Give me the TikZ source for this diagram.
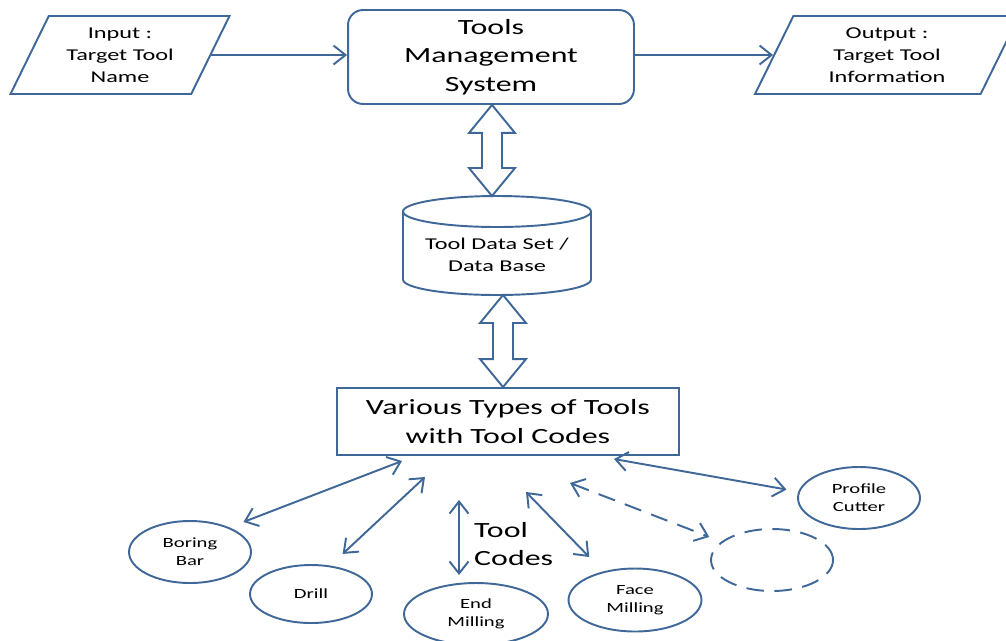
\documentclass[tikz,border=0pt]{standalone}
\usepackage{fontspec}
\setmainfont{Carlito}[FakeStretch=1.47]
\usetikzlibrary{calc,arrows.meta,shapes.geometric}
\definecolor{toolblue}{RGB}{63,104,152}
\newcommand\bigfont{\fontsize{12.35}{16.2}\selectfont}
\newcommand\midfont{\fontsize{9.4}{12.5}\selectfont}
\newcommand\smallfont{\fontsize{8}{10.2}\selectfont}
% hollow two-headed arrow from a top point #1 down to a bottom point #2
\newcommand\fatlink[2]{\draw[fatarrow] (#1) -- ($(#1)+(23,28)$) -- ($(#1)+(10,28)$) -- ($(#2)+(10,-28)$) -- ($(#2)+(23,-28)$) -- (#2) -- ($(#2)+(-23,-28)$) -- ($(#2)+(-10,-28)$) -- ($(#1)+(-10,28)$) -- ($(#1)+(-23,28)$) -- cycle;}
\tikzset{
	outline/.style={draw=toolblue, line width=1.1pt},
	box/.style={outline, align=center, inner sep=0pt},
	iobox/.style={box, trapezium, trapezium left angle=55, trapezium right angle=125, trapezium stretches body, minimum height=1.56cm, font=\midfont},
	tool/.style={box, ellipse, minimum width=2.44cm, minimum height=1.24cm, font=\smallfont},
	link/.style={outline, <->},
	flow/.style={outline, ->},
	fatarrow/.style={outline, fill=white, line join=miter},
	gapdash/.style={dash pattern=on 10pt off 6pt}
}

\begin{document}
\begin{tikzpicture}[x=0.02cm, y=-0.02cm, >={Straight Barb[length=2.4mm,width=3.8mm]}]
	\useasboundingbox (0,0) rectangle (1006,640);
	%%%%% TOP ROW %%%%%
	\node[iobox, minimum width=4.38cm] (in) at (120,55) {Input :\\Target Tool\\Name};
	\node[box, rounded corners=0.3cm, minimum width=5.72cm, minimum height=1.88cm, font=\bigfont] (tms) at (491,57) {Tools\\Management\\System};
	\node[iobox, minimum width=5.28cm] (out) at (887,55) {Output :\\Target Tool\\Information};
	\draw[flow] (in.east) -- (in.east -| tms.west);
	\draw[flow] (tms.east |- out.west) -- (out.west);
	
	%%%%% DATA BASE %%%%%
	\node[font=\midfont, align=center, inner sep=0pt] (db) at (497,255) {Tool Data Set /\\Data Base};
	\draw[outline] (497,211.5) ellipse [x radius=1.88cm, y radius=0.31cm];
	\draw[outline] (403,211.5) -- (403,279.5) arc [start angle=180, end angle=360, x radius=1.88cm, y radius=0.31cm] -- (591,211.5);
	\coordinate (dbtop) at (492,196);
	\coordinate (dbfoot) at (503,295);
	
	\node[box, minimum width=6.84cm, minimum height=1.34cm, font=\bigfont] (types) at (508,421.5) {Various Types of Tools\\with Tool Codes};
	\coordinate (typestop) at (types.north -| dbfoot);
	\fatlink{tms.south -| dbtop}{dbtop}
	\fatlink{dbfoot}{typestop}
	
	%%%%% TOOLS %%%%%
	\node[tool] (bore) at (190,552) {Boring\\Bar};
	\node[tool, minimum height=1.16cm] (drill) at (311,594) {Drill};
	\node[tool, minimum width=2.88cm] (endmill) at (476,614) {End\\Milling};
	\node[tool, minimum width=2.66cm, minimum height=1.26cm] (face) at (635,600) {Face\\Milling};
	\node[tool, gapdash] (blank) at (772,560) {};
	\node[tool] (profile) at (859,498) {Profile\\Cutter};
	\node[font=\bigfont, align=left, anchor=west] (codes) at (468,544) {Tool\\Codes};
	
	\coordinate (tb) at (402,461);
	\coordinate (td) at (425,477);
	\coordinate (tf) at (526,492);
	\coordinate (tx) at (570,483);
	\coordinate (tp) at (614,459);
	\coordinate (ca) at (459,500);
	\coordinate (cb) at (459,575);
	\draw[link, shorten >=0.3cm] (tb) -- (bore.32);
	\draw[link, shorten >=0.34cm] (td) -- (drill.56);
	\draw[link] (ca) -- (cb);
	\draw[link, shorten >=0.4cm] (tf) -- (face.138);
	\draw[link, gapdash, shorten >=0.26cm] (tx) -- (blank.160);
	\draw[link, shorten >=0.24cm] (tp) -- (profile.174);
\end{tikzpicture}
\end{document}
